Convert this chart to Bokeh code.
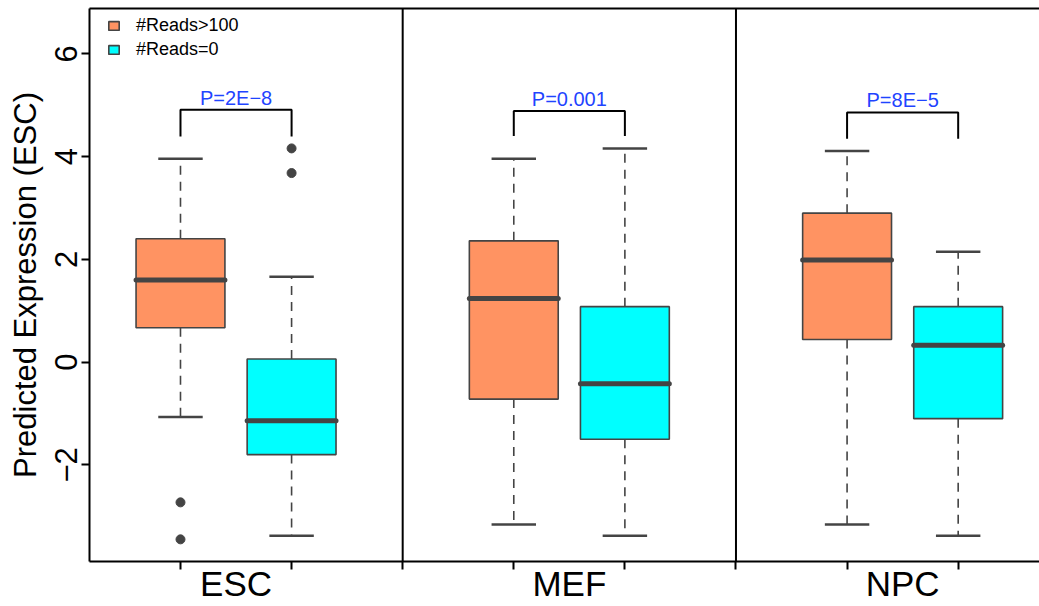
from bokeh.plotting import figure
from bokeh.models import (ColumnDataSource, FixedTicker, LinearAxis, Range1d,
                          Span, Legend, LegendItem)
from bokeh.core.properties import value
from bokeh.embed import file_html
from bokeh.resources import INLINE

FONT = "Liberation Sans"

groups = ["ESC", "MEF", "NPC"]
series = ["#Reads>100", "#Reads=0"]
colors = ["#FF9362", "#00FFFF"]

# box statistics for genes with #Reads>100
hi_low = [-1.07, -3.16, -3.16]
hi_q1 = [0.67, -0.72, 0.44]
hi_med = [1.60, 1.24, 1.99]
hi_q3 = [2.40, 2.36, 2.90]
hi_up = [3.96, 3.96, 4.11]

# box statistics for genes with #Reads=0
zero_low = [-3.38, -3.38, -3.38]
zero_q1 = [-1.80, -1.50, -1.10]
zero_med = [-1.14, -0.42, 0.33]
zero_q3 = [0.06, 1.08, 1.08]
zero_up = [1.66, 4.16, 2.15]

# outlying points
out_group = ["ESC", "ESC", "ESC", "ESC"]
out_series = [0, 0, 1, 1]
out_value = [-2.73, -3.45, 4.16, 3.68]

# significance brackets
p_labels = ["P=2E\u22128", "P=0.001", "P=8E\u22125"]
bracket_top = [4.91, 4.89, 4.86]
bracket_leg = [4.39, 4.40, 4.35]

y_ticks = [-2, 0, 2, 4, 6]

GROUP_STEP = 3.0
BOX_W = 0.8
CAP_W = 0.4


def box_x(g, s):
    return GROUP_STEP * g + 1 + s


stats = [
    dict(low=hi_low, q1=hi_q1, med=hi_med, q3=hi_q3, up=hi_up),
    dict(low=zero_low, q1=zero_q1, med=zero_med, q3=zero_q3, up=zero_up),
]

p = figure(width=1039, height=606,
           x_range=Range1d(0.181, 8.732), y_range=Range1d(-3.881, 6.883),
           x_axis_type=None, y_axis_type=None,
           output_backend="svg", toolbar_location=None,
           min_border_left=89, min_border_right=0,
           min_border_top=8, min_border_bottom=45)
p.outline_line_color = None
p.background_fill_color = "white"
p.border_fill_color = "white"

box_renderers = []
for s, st in enumerate(stats):
    xs = [box_x(g, s) for g in range(len(groups))]
    src = ColumnDataSource(dict(
        x=xs,
        x0=[x - BOX_W / 2 for x in xs],
        x1=[x + BOX_W / 2 for x in xs],
        c0=[x - CAP_W / 2 for x in xs],
        c1=[x + CAP_W / 2 for x in xs],
        low=st["low"], q1=st["q1"], med=st["med"], q3=st["q3"], up=st["up"],
    ))
    # dashed whiskers
    p.segment(x0="x", x1="x", y0="q3", y1="up", source=src,
              line_color="#444444", line_width=1.6, line_dash="9 7")
    p.segment(x0="x", x1="x", y0="q1", y1="low", source=src,
              line_color="#444444", line_width=1.6, line_dash="9 7")
    # whisker caps
    p.segment(x0="c0", x1="c1", y0="up", y1="up", source=src,
              line_color="#444444", line_width=2.5)
    p.segment(x0="c0", x1="c1", y0="low", y1="low", source=src,
              line_color="#444444", line_width=2.5)
    # boxes
    r = p.vbar(x="x", width=BOX_W, top="q3", bottom="q1", source=src,
               fill_color=colors[s], line_color="#444444", line_width=1.6)
    box_renderers.append(r)
    # medians
    p.segment(x0="x0", x1="x1", y0="med", y1="med", source=src,
              line_color="#444444", line_width=5, line_cap="round")

out_src = ColumnDataSource(dict(
    x=[box_x(groups.index(g), s) for g, s in zip(out_group, out_series)],
    y=out_value,
))
p.scatter(x="x", y="y", source=out_src, size=9, marker="circle",
          fill_color="#444444", line_color="#444444")

# brackets between the two boxes of each group
br_xs, br_ys = [], []
for g in range(len(groups)):
    a, b = box_x(g, 0), box_x(g, 1)
    br_xs.append([a, a, b, b])
    br_ys.append([bracket_leg[g], bracket_top[g], bracket_top[g], bracket_leg[g]])
p.multi_line(xs=br_xs, ys=br_ys, line_color="black", line_width=2)

txt_src = ColumnDataSource(dict(
    x=[(box_x(g, 0) + box_x(g, 1)) / 2 for g in range(len(groups))],
    y=bracket_top, text=p_labels,
))
p.text(x="x", y="y", text="text", source=txt_src, text_align="center",
       text_baseline="middle", y_offset=-12, text_color="#1F44FF",
       text_font=value(FONT), text_font_size="20px")

# panel dividers
for g in range(1, len(groups)):
    p.add_layout(Span(location=GROUP_STEP * g, dimension="height",
                      line_color="black", line_width=2))

# y axis
yax = LinearAxis(ticker=FixedTicker(ticks=y_ticks),
                 axis_label="Predicted Expression (ESC)",
                 major_label_orientation="vertical",
                 major_label_overrides={t: (str(t) if t >= 0 else "\u2212" + str(-t)) for t in y_ticks})
yax.axis_line_width = 2
yax.axis_line_color = "black"
yax.major_tick_line_width = 2
yax.major_tick_line_color = "black"
yax.major_tick_out = 8
yax.major_tick_in = 0
yax.minor_tick_line_color = None
yax.major_label_standoff = 4
yax.major_label_text_font = FONT
yax.major_label_text_font_size = "31px"
yax.major_label_text_color = "black"
yax.axis_label_text_font = FONT
yax.axis_label_text_font_size = "31px"
yax.axis_label_text_font_style = "normal"
yax.axis_label_text_color = "black"
yax.axis_label_standoff = 10
p.add_layout(yax, "left")

# x axis: group names between boxes, ticks under boxes and dividers
centers = [(box_x(g, 0) + box_x(g, 1)) / 2 for g in range(len(groups))]
minor = [box_x(g, s) for g in range(len(groups)) for s in range(2)] + \
        [GROUP_STEP * g for g in range(1, len(groups))]
xax = LinearAxis(ticker=FixedTicker(ticks=centers, minor_ticks=sorted(minor)),
                 major_label_overrides={c: g for c, g in zip(centers, groups)})
xax.axis_line_width = 2
xax.axis_line_color = "black"
xax.major_tick_line_color = None
xax.major_tick_out = 0
xax.major_tick_in = 0
xax.minor_tick_line_color = "black"
xax.minor_tick_line_width = 2
xax.minor_tick_out = 8
xax.minor_tick_in = 0
xax.major_label_standoff = -6
xax.major_label_text_font = FONT
xax.major_label_text_font_size = "35px"
xax.major_label_text_color = "black"
p.add_layout(xax, "below")

# top frame line
tax = LinearAxis(ticker=FixedTicker(ticks=[]))
tax.axis_line_width = 2
tax.axis_line_color = "black"
tax.major_tick_out = 0
tax.major_tick_in = 0
tax.minor_tick_out = 0
tax.major_label_standoff = 0
tax.major_label_text_font_size = "0px"
p.add_layout(tax, "above")

legend = Legend(items=[LegendItem(label=series[i], renderers=[box_renderers[i]])
                       for i in range(2)],
                location=(18, 501), padding=0, margin=0, spacing=3,
                glyph_width=13, glyph_height=11, label_height=18,
                label_standoff=16, label_text_font=FONT,
                label_text_font_size="18px", label_text_color="black",
                border_line_color=None, background_fill_alpha=0)
p.add_layout(legend)

open("out.html", "w").write(file_html(p, INLINE))
